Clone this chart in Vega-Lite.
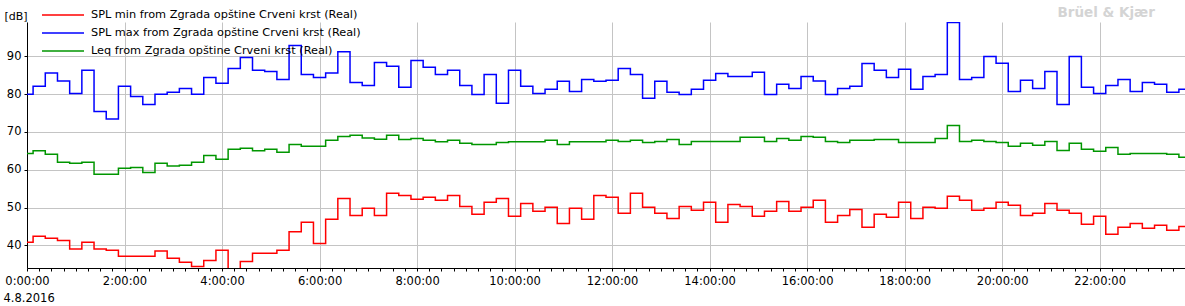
{
  "$schema": "https://vega.github.io/schema/vega-lite/v6.json",
  "autosize": {"type": "none"},
  "width": 1158,
  "height": 246,
  "padding": {"left": 27, "top": 22, "right": 0, "bottom": 38},
  "background": "white",
  "layer": [
    {
      "data": {
        "format": {"parse": {"t": "utc:'%H:%M'"}},
        "values": [
          {"t": "00:00", "min": 40.8, "max": 80.0, "leq": 64.3},
          {"t": "00:15", "min": 42.4, "max": 82.1, "leq": 65.0},
          {"t": "00:30", "min": 41.9, "max": 85.6, "leq": 64.1},
          {"t": "00:45", "min": 41.3, "max": 83.5, "leq": 62.0},
          {"t": "01:00", "min": 39.0, "max": 80.2, "leq": 61.7},
          {"t": "01:15", "min": 40.8, "max": 86.3, "leq": 62.0},
          {"t": "01:30", "min": 39.0, "max": 75.4, "leq": 58.8},
          {"t": "01:45", "min": 38.7, "max": 73.4, "leq": 58.8},
          {"t": "02:00", "min": 37.1, "max": 82.1, "leq": 60.4},
          {"t": "02:15", "min": 37.1, "max": 79.4, "leq": 60.6},
          {"t": "02:30", "min": 37.1, "max": 77.3, "leq": 59.3},
          {"t": "02:45", "min": 38.5, "max": 80.0, "leq": 61.7},
          {"t": "03:00", "min": 36.6, "max": 80.5, "leq": 61.0},
          {"t": "03:15", "min": 35.5, "max": 81.5, "leq": 61.2},
          {"t": "03:30", "min": 34.4, "max": 80.0, "leq": 62.0},
          {"t": "03:45", "min": 36.0, "max": 84.4, "leq": 63.8},
          {"t": "04:00", "min": 38.7, "max": 82.9, "leq": 62.8},
          {"t": "04:15", "min": 32.0, "max": 86.8, "leq": 65.4},
          {"t": "04:30", "min": 35.7, "max": 89.7, "leq": 65.7},
          {"t": "04:45", "min": 37.9, "max": 86.3, "leq": 65.0},
          {"t": "05:00", "min": 37.9, "max": 86.0, "leq": 65.4},
          {"t": "05:15", "min": 38.7, "max": 83.9, "leq": 64.6},
          {"t": "05:30", "min": 43.6, "max": 92.9, "leq": 66.7},
          {"t": "05:45", "min": 46.1, "max": 85.2, "leq": 66.2},
          {"t": "06:00", "min": 40.5, "max": 84.4, "leq": 66.2},
          {"t": "06:15", "min": 46.9, "max": 85.6, "leq": 67.8},
          {"t": "06:30", "min": 52.4, "max": 91.2, "leq": 68.8},
          {"t": "06:45", "min": 47.9, "max": 83.1, "leq": 69.1},
          {"t": "07:00", "min": 49.8, "max": 82.3, "leq": 68.4},
          {"t": "07:15", "min": 47.9, "max": 88.4, "leq": 68.1},
          {"t": "07:30", "min": 53.8, "max": 87.4, "leq": 69.1},
          {"t": "07:45", "min": 53.2, "max": 81.8, "leq": 68.0},
          {"t": "08:00", "min": 52.2, "max": 88.9, "leq": 68.3},
          {"t": "08:15", "min": 52.7, "max": 87.1, "leq": 67.8},
          {"t": "08:30", "min": 51.9, "max": 85.2, "leq": 67.4},
          {"t": "08:45", "min": 53.2, "max": 86.3, "leq": 67.8},
          {"t": "09:00", "min": 50.3, "max": 82.3, "leq": 67.0},
          {"t": "09:15", "min": 48.2, "max": 79.9, "leq": 66.7},
          {"t": "09:30", "min": 51.4, "max": 85.2, "leq": 66.7},
          {"t": "09:45", "min": 52.4, "max": 77.6, "leq": 67.2},
          {"t": "10:00", "min": 47.7, "max": 86.3, "leq": 67.4},
          {"t": "10:15", "min": 51.1, "max": 82.1, "leq": 67.4},
          {"t": "10:30", "min": 49.0, "max": 80.2, "leq": 67.4},
          {"t": "10:45", "min": 50.1, "max": 81.3, "leq": 67.8},
          {"t": "11:00", "min": 45.8, "max": 83.4, "leq": 66.7},
          {"t": "11:15", "min": 49.8, "max": 80.7, "leq": 67.4},
          {"t": "11:30", "min": 46.9, "max": 83.9, "leq": 67.4},
          {"t": "11:45", "min": 53.2, "max": 83.4, "leq": 67.4},
          {"t": "12:00", "min": 52.7, "max": 83.7, "leq": 67.8},
          {"t": "12:15", "min": 48.5, "max": 86.8, "leq": 67.5},
          {"t": "12:30", "min": 53.8, "max": 85.2, "leq": 67.8},
          {"t": "12:45", "min": 50.1, "max": 78.9, "leq": 67.2},
          {"t": "13:00", "min": 48.5, "max": 83.4, "leq": 67.5},
          {"t": "13:15", "min": 47.1, "max": 80.5, "leq": 68.0},
          {"t": "13:30", "min": 50.3, "max": 79.9, "leq": 66.7},
          {"t": "13:45", "min": 49.3, "max": 81.3, "leq": 67.5},
          {"t": "14:00", "min": 51.4, "max": 83.7, "leq": 67.5},
          {"t": "14:15", "min": 46.1, "max": 85.5, "leq": 67.5},
          {"t": "14:30", "min": 50.8, "max": 84.7, "leq": 67.5},
          {"t": "14:45", "min": 50.3, "max": 84.7, "leq": 68.6},
          {"t": "15:00", "min": 47.7, "max": 85.8, "leq": 68.6},
          {"t": "15:15", "min": 49.0, "max": 79.9, "leq": 67.5},
          {"t": "15:30", "min": 51.6, "max": 82.6, "leq": 68.3},
          {"t": "15:45", "min": 49.0, "max": 81.5, "leq": 67.8},
          {"t": "16:00", "min": 50.1, "max": 84.7, "leq": 68.8},
          {"t": "16:15", "min": 51.9, "max": 83.5, "leq": 68.6},
          {"t": "16:30", "min": 46.1, "max": 79.9, "leq": 67.5},
          {"t": "16:45", "min": 47.9, "max": 81.5, "leq": 67.2},
          {"t": "17:00", "min": 49.5, "max": 82.1, "leq": 67.8},
          {"t": "17:15", "min": 44.8, "max": 88.1, "leq": 67.8},
          {"t": "17:30", "min": 48.2, "max": 86.3, "leq": 68.0},
          {"t": "17:45", "min": 47.4, "max": 84.4, "leq": 68.0},
          {"t": "18:00", "min": 51.4, "max": 86.6, "leq": 67.2},
          {"t": "18:15", "min": 47.1, "max": 81.3, "leq": 67.2},
          {"t": "18:30", "min": 50.1, "max": 84.7, "leq": 67.2},
          {"t": "18:45", "min": 49.8, "max": 85.2, "leq": 68.3},
          {"t": "19:00", "min": 53.0, "max": 99.0, "leq": 71.7},
          {"t": "19:15", "min": 51.9, "max": 83.9, "leq": 67.5},
          {"t": "19:30", "min": 49.3, "max": 84.4, "leq": 67.8},
          {"t": "19:45", "min": 49.8, "max": 90.0, "leq": 67.5},
          {"t": "20:00", "min": 51.4, "max": 88.2, "leq": 67.2},
          {"t": "20:15", "min": 50.6, "max": 80.7, "leq": 66.2},
          {"t": "20:30", "min": 47.9, "max": 83.7, "leq": 67.0},
          {"t": "20:45", "min": 48.5, "max": 81.5, "leq": 66.5},
          {"t": "21:00", "min": 51.1, "max": 86.0, "leq": 67.5},
          {"t": "21:15", "min": 49.3, "max": 77.3, "leq": 65.1},
          {"t": "21:30", "min": 48.5, "max": 90.0, "leq": 67.0},
          {"t": "21:45", "min": 45.6, "max": 81.8, "leq": 65.4},
          {"t": "22:00", "min": 47.7, "max": 80.2, "leq": 64.9},
          {"t": "22:15", "min": 42.9, "max": 82.3, "leq": 65.9},
          {"t": "22:30", "min": 44.8, "max": 83.9, "leq": 64.1},
          {"t": "22:45", "min": 45.8, "max": 80.7, "leq": 64.3},
          {"t": "23:00", "min": 44.5, "max": 83.1, "leq": 64.3},
          {"t": "23:15", "min": 45.3, "max": 82.6, "leq": 64.3},
          {"t": "23:30", "min": 44.0, "max": 80.5, "leq": 64.1},
          {"t": "23:45", "min": 45.0, "max": 81.3, "leq": 63.3}
        ]
      },
      "transform": [{"fold": ["min", "max", "leq"], "as": ["s", "v"]}],
      "mark": {"type": "line", "interpolate": "step", "clip": true, "strokeWidth": 1.5},
      "encoding": {
        "x": {
          "field": "t",
          "type": "temporal",
          "scale": {"type": "utc", "nice": false},
          "axis": {
            "title": "4.8.2016",
            "titleAnchor": "start",
            "titleAlign": "left",
            "titleBaseline": "alphabetic",
            "titleX": -24,
            "titleY": 33,
            "titleFont": "DejaVu Sans",
            "titleFontSize": 11.5,
            "titleFontWeight": "normal",
            "titleColor": "#000000",
            "tickCount": 72,
            "labelExpr": "utchours(datum.value) % 2 == 0 && utcminutes(datum.value) == 0 ? utcFormat(datum.value, '%-H:%M:%S') : ''",
            "labelOverlap": false,
            "labelFlush": false,
            "labelBound": false,
            "labelFont": "DejaVu Sans",
            "labelFontSize": 11.5,
            "labelColor": "#000000",
            "labelPadding": 4,
            "domainColor": "#000000",
            "tickColor": "#000000",
            "tickSize": 3,
            "grid": true,
            "gridColor": "#c4c4c4",
            "gridOpacity": {"condition": {"test": "utchours(datum.value) % 2 == 0 && utcminutes(datum.value) == 0", "value": 1}, "value": 0}
          }
        },
        "y": {
          "field": "v",
          "type": "quantitative",
          "scale": {"domain": [34, 99.1], "nice": false, "zero": false},
          "axis": {
            "values": [40, 50, 60, 70, 80, 90],
            "title": "[dB]",
            "titleAngle": 0,
            "titleAlign": "left",
            "titleBaseline": "alphabetic",
            "titleX": -23,
            "titleY": -3,
            "titleFont": "DejaVu Sans",
            "titleFontSize": 11,
            "titleFontWeight": "normal",
            "titleColor": "#000000",
            "labelFont": "DejaVu Sans",
            "labelFontSize": 11.5,
            "labelColor": "#000000",
            "labelPadding": 3,
            "tickSize": 3,
            "tickColor": "#000000",
            "domainColor": "#000000",
            "grid": true,
            "gridColor": "#c4c4c4"
          }
        },
        "color": {
          "field": "s",
          "type": "nominal",
          "scale": {"domain": ["min", "max", "leq"], "range": ["#ff0000", "#0000ff", "#009600"]},
          "legend": {
            "title": null,
            "orient": "none",
            "legendX": 14,
            "legendY": -13.5,
            "padding": 0,
            "clipHeight": 13,
            "symbolType": "stroke",
            "symbolSize": 1764,
            "symbolStrokeWidth": 1.5,
            "labelFont": "DejaVu Sans",
            "labelFontSize": 11.3,
            "labelColor": "#000000",
            "labelOffset": 6,
            "labelLimit": 500,
            "rowPadding": 5,
            "labelExpr": "datum.label == 'min' ? 'SPL min from Zgrada opštine Crveni krst (Real)' : datum.label == 'max' ? 'SPL max from Zgrada opštine Crveni krst (Real)' : 'Leq from Zgrada opštine Crveni krst (Real)'"
          }
        }
      }
    },
    {
      "data": {"values": [{"label": "Brüel & Kjær"}]},
      "mark": {"type": "text", "align": "right", "baseline": "alphabetic", "font": "DejaVu Sans", "fontSize": 13.5, "fontWeight": "bold", "color": "#d4d4d4"},
      "encoding": {
        "x": {"datum": {"year": 1900, "month": 1, "date": 1, "hours": 23, "minutes": 8, "utc": true}, "type": "temporal"},
        "y": {"datum": 100.4, "type": "quantitative"},
        "text": {"field": "label"}
      }
    }
  ],
  "config": {
    "view": {"stroke": null},
    "font": "DejaVu Sans",
    "legend": {"labelFont": "DejaVu Sans", "labelFontSize": 11.3, "labelColor": "#000000"}
  }
}
